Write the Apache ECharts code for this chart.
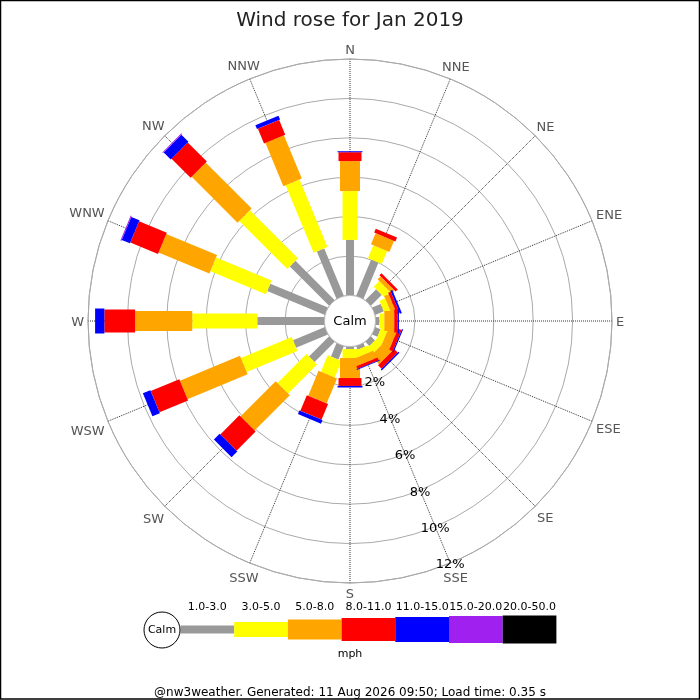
<!DOCTYPE html>
<html>
<head>
<meta charset="utf-8">
<script src="https://cdn.jsdelivr.net/npm/echarts@6/dist/echarts.min.js"></script>
<style>
  html, body { margin: 0; padding: 0; background: #fff; }
  #main { width: 700px; height: 700px; }
</style>
</head>
<body>
<div id="main"></div>
<script type="text/javascript">
    // directions, clockwise from north
    var dirs = ['N','NNE','NE','ENE','E','ESE','SE','SSE','S','SSW','SW','WSW','W','WNW','NW','NNW'];
    // speed bands (mph)
    var bands = ['1.0-3.0','3.0-5.0','5.0-8.0','8.0-11.0','11.0-15.0','15.0-20.0','20.0-50.0'];
    var bandColors = ['#999999','#ffff00','#ffa500','#ff0000','#0000ff','#a020f0','#000000'];
    // % of time per direction, one list per band
    var s1_3   = [2.82, 2.00, 0.79, 0.48, 0.20, 0.30, 0.30, 0.20, 0.13, 0.74, 1.45, 1.75, 3.41, 3.17, 2.82, 2.61];
    var s3_5   = [2.48, 0.71, 0.40, 0.31, 0.25, 0.35, 0.40, 0.35, 0.45, 0.91, 2.08, 2.79, 3.30, 3.05, 3.45, 3.71];
    var s5_8   = [1.52, 0.61, 0.21, 0.25, 0.50, 0.45, 0.60, 0.40, 1.02, 1.37, 2.53, 3.30, 2.90, 2.79, 3.29, 2.38];
    var s8_11  = [0.45, 0.21, 0.15, 0.15, 0.18, 0.20, 0.25, 0.15, 0.40, 0.86, 1.37, 1.57, 1.56, 1.52, 1.37, 0.81];
    var s11_15 = [0.05, 0.00, 0.00, 0.10, 0.06, 0.06, 0.07, 0.04, 0.08, 0.20, 0.41, 0.41, 0.47, 0.45, 0.51, 0.21];
    var s15_20 = [0, 0, 0, 0, 0, 0, 0, 0, 0, 0, 0, 0, 0, 0.05, 0.05, 0];
    var s20_50 = [0, 0, 0, 0, 0, 0, 0, 0, 0, 0, 0, 0, 0, 0, 0, 0];
    var rTicks = [0, 2, 4, 6, 8, 10, 12];

    var bandValues = [s1_3, s3_5, s5_8, s8_11, s11_15, s15_20, s20_50];
    var bandWidths = [8, 15, 20, 23, 25, 27, 28];

    var CX = 350, CY = 321, R0 = 25.5, R1 = 262;
    var RMAX = rTicks[rTicks.length - 1];
    var STEP = 360 / dirs.length;

    var myChart = echarts.init(document.getElementById('main'));

    function makeRender(w, color) {
        return function (params, api) {
            var r0 = api.value(0), r1 = api.value(1), a = api.value(2);
            if (!(r1 > r0)) return;
            var p0 = api.coord([r0, a]), p1 = api.coord([r1, a]);
            var q0 = api.coord([0, a]), q1 = api.coord([RMAX, a]);
            var dx = q1[0] - q0[0], dy = q1[1] - q0[1];
            var len = Math.sqrt(dx * dx + dy * dy);
            var nx = -dy / len * w / 2, ny = dx / len * w / 2;
            return {
                type: 'polygon',
                shape: { points: [
                    [p0[0] + nx, p0[1] + ny], [p1[0] + nx, p1[1] + ny],
                    [p1[0] - nx, p1[1] - ny], [p0[0] - nx, p0[1] - ny]
                ] },
                style: { fill: color, stroke: null }
            };
        };
    }

    // stacked segments, drawn band by band
    var series = [];
    var cum = dirs.map(function () { return 0; });
    bandValues.forEach(function (vals, k) {
        var data = vals.map(function (v, i) {
            var item = [cum[i], cum[i] + v, i * STEP];
            cum[i] += v;
            return item;
        });
        series.push({
            name: bands[k],
            type: 'custom',
            coordinateSystem: 'polar',
            polarIndex: 0,
            dimensions: ['from', 'to', 'angle'],
            encode: { radius: [0, 1], angle: 2 },
            renderItem: makeRender(bandWidths[k], bandColors[k]),
            silent: true,
            z: 3 + k,
            data: data
        });
    });

    // frame, calm circle and legend strip
    var graphics = [
        { type: 'rect', shape: { x: 0.5, y: 0.5, width: 699, height: 698.5 }, style: { fill: null, stroke: '#000', lineWidth: 1.5 }, z: 100 },
        { type: 'circle', shape: { cx: CX, cy: CY, r: R0 }, style: { fill: '#fff', stroke: '#bbb', lineWidth: 0.8 }, z: 50 },
        { type: 'text', x: CX, y: CY + 1, style: { text: 'Calm', fontSize: 13, fontFamily: 'DejaVu Sans', fill: '#000', align: 'center', verticalAlign: 'middle' }, z: 51 },
        { type: 'circle', shape: { cx: 162, cy: 630, r: 18 }, style: { fill: '#fff', stroke: '#000', lineWidth: 1 }, z: 52 },
        { type: 'text', x: 162, y: 630, style: { text: 'Calm', fontSize: 11, fontFamily: 'DejaVu Sans', fill: '#000', align: 'center', verticalAlign: 'middle' }, z: 53 },
        { type: 'text', x: 350, y: 654, style: { text: 'mph', fontSize: 11, fontFamily: 'DejaVu Sans', fill: '#000', align: 'center', verticalAlign: 'middle' }, z: 53 },
        { type: 'text', x: 350, y: 693, style: { text: '@nw3weather. Generated: 11 Aug 2026 09:50; Load time: 0.35 s', fontSize: 12, fontFamily: 'DejaVu Sans', fill: '#000', align: 'center', verticalAlign: 'middle' }, z: 53 }
    ];
    var segW = 53.7, legX = 180.5, legY = 629.5;
    bands.forEach(function (b, k) {
        graphics.push({ type: 'rect', shape: { x: legX + k * segW, y: legY - bandWidths[k] / 2, width: segW, height: bandWidths[k] }, style: { fill: bandColors[k] }, z: 51 });
        graphics.push({ type: 'text', x: legX + (k + 0.5) * segW, y: 607, style: { text: b, fontSize: 11, fontFamily: 'DejaVu Sans', fill: '#000', align: 'center', verticalAlign: 'middle' }, z: 53 });
    });

    var option = {
        animation: false,
        backgroundColor: '#fff',
        title: {
            text: 'Wind rose for Jan 2019',
            left: 'center',
            top: 6,
            textStyle: { fontFamily: 'DejaVu Sans', fontSize: 20, fontWeight: 'normal', color: '#222' }
        },
        polar: { center: [CX, CY], radius: [R0, R1] },
        angleAxis: {
            type: 'value',
            min: 0,
            max: 360,
            interval: STEP,
            startAngle: 90,
            clockwise: true,
            axisLine: { show: true, lineStyle: { color: '#aaa', width: 1 } },
            axisTick: { show: false },
            axisLabel: { show: false },
            splitLine: { show: true, lineStyle: { color: '#333', type: [1, 1], width: 1 } }
        },
        radiusAxis: {
            type: 'value',
            min: 0,
            max: RMAX,
            interval: 2,
            axisLine: { show: false },
            axisTick: { show: false },
            axisLabel: { show: false },
            splitLine: { show: true, lineStyle: { color: '#aaa', width: 1 } }
        },
        graphic: graphics,
        series: series
    };
    myChart.setOption(option);

    // compass labels: box edge kept a fixed gap outside the outer ring
    var ctx = document.createElement('canvas').getContext('2d');
    ctx.font = '13px "DejaVu Sans"';
    var pxPerUnit = (R1 - R0) / RMAX;
    var axisTexts = dirs.map(function (d, i) {
        var t = i * STEP * Math.PI / 180;
        var half = ctx.measureText(d).width / 2 * Math.abs(Math.sin(t)) + 6 * Math.abs(Math.cos(t));
        var rv = RMAX + (4 + half) / pxPerUnit;
        var p = myChart.convertToPixel({ polarIndex: 0 }, [rv, i * STEP]);
        return { type: 'text', x: p[0], y: p[1] + 2, style: { text: d, fontSize: 13, fontFamily: 'DejaVu Sans', fill: '#555', align: 'center', verticalAlign: 'middle' }, z: 53 };
    });
    // ring labels along the SSE spoke
    rTicks.slice(1).forEach(function (v) {
        var p = myChart.convertToPixel({ polarIndex: 0 }, [v, 7 * STEP]);
        axisTexts.push({ type: 'text', x: p[0], y: p[1] + 2, style: { text: v + '%', fontSize: 13, fontFamily: 'DejaVu Sans', fill: '#000', align: 'center', verticalAlign: 'middle' }, z: 60 });
    });
    myChart.setOption({ graphic: graphics.concat(axisTexts) });
</script>
</body>
</html>
